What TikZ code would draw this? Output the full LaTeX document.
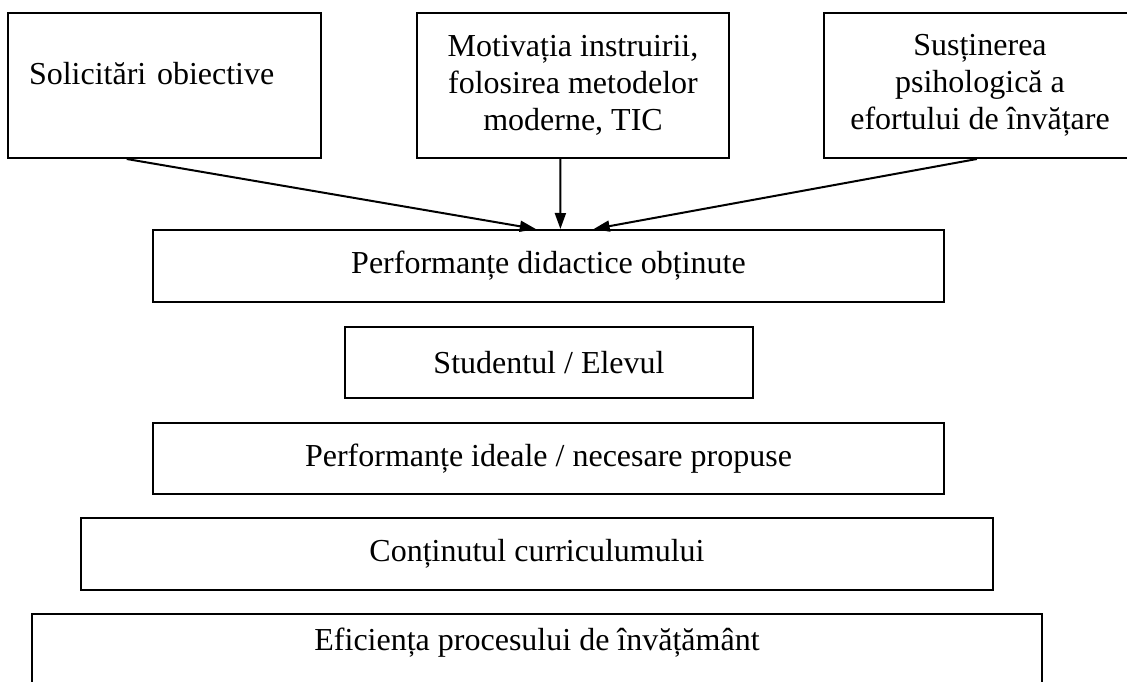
\documentclass[tikz,border=0pt]{standalone}
\usepackage{fontspec}
\setmainfont{Liberation Serif}
\usetikzlibrary{arrows.meta,calc}
\begin{document}
\begin{tikzpicture}[x=1pt,y=-1pt,
  box/.style={draw,line width=2pt,rectangle,inner sep=0pt,
    font=\fontsize{32}{37}\selectfont,align=center},
  arr/.style={line width=2pt,-{Triangle[length=16pt,width=11pt]}}]
\useasboundingbox (0,0) rectangle (1127,682);
\clip (0,0) rectangle (1127,682);

% top row: the three influences
\node[box,minimum width=313pt,minimum height=145pt,text width=271pt,align=left,
  text height=22pt,text depth=24pt] (b1) at (164.5,85.5) {Solicitări obiective};
\node[box,minimum width=312pt,minimum height=145pt] (b2) at (573,85.5)
  {Motivația instruirii,\\ folosirea metodelor\\ moderne, TIC};
\node[box,minimum width=312pt,minimum height=145pt] (b3) at (980,85.5)
  {Susținerea\\ psihologică a\\ efortului de învățare};

% stacked levels
\node[box,minimum width=791pt,minimum height=72pt] (p1) at (548.5,266)
  {Performanțe didactice obținute};
\node[box,minimum width=408pt,minimum height=71pt] (st) at (549,362.5)
  {Studentul / Elevul};
\node[box,minimum width=791pt,minimum height=71pt] (p2) at (548.5,458.5)
  {Performanțe ideale / necesare propuse};
\node[box,minimum width=912pt,minimum height=72pt] (ct) at (537,554)
  {Conținutul curriculumului};
\node[box,minimum width=1010pt,minimum height=72pt,text height=24pt,text depth=23pt]
  (ef) at (537,650) {Eficiența procesului de învățământ};

% arrows into the obtained performances
\draw[arr] ($(b1.south west)!0.38!(b1.south east)$) -- ($(p1.north west)!0.484!(p1.north east)$);
\draw[arr] ($(b2.south west)!0.46!(b2.south east)$) -- ($(p1.north west)!0.515!(p1.north east)$);
\draw[arr] ($(b3.south west)!0.49!(b3.south east)$) -- ($(p1.north west)!0.557!(p1.north east)$);
\end{tikzpicture}
\end{document}
